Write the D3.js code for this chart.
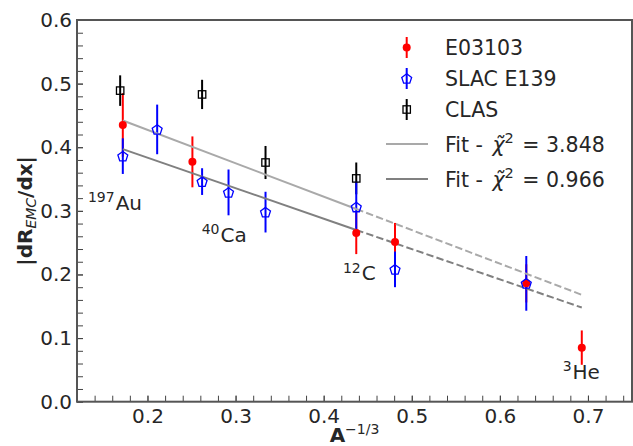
<!DOCTYPE html>
<html>
<head>
<meta charset="utf-8">
<script src="https://cdn.jsdelivr.net/npm/d3@7/dist/d3.min.js"></script>
<style>
  html, body { margin: 0; padding: 0; background: #fff; }
  svg { display: block; font-family: "DejaVu Sans", sans-serif; }
</style>
</head>
<body>
<div id="chart"></div>
<script>
// ---------------- data ----------------
const e03103X   = [0.172, 0.251, 0.437, 0.481, 0.630, 0.693];
const e03103Y   = [0.435, 0.377, 0.265, 0.251, 0.186, 0.085];
const e03103Err = [0.050, 0.040, 0.033, 0.030, 0.030, 0.027];

const slacX   = [0.172, 0.211, 0.262, 0.292, 0.334, 0.437, 0.481, 0.630];
const slacY   = [0.386, 0.428, 0.346, 0.329, 0.298, 0.306, 0.208, 0.186];
const slacErr = [0.028, 0.039, 0.021, 0.036, 0.032, 0.040, 0.028, 0.043];

const clasX   = [0.169, 0.262, 0.334, 0.437];
const clasY   = [0.489, 0.483, 0.376, 0.351];
const clasErr = [0.024, 0.023, 0.026, 0.025];

// fit lines: solid part up to carbon, dashed extrapolation to 3He
const fitX      = [0.172, 0.437, 0.693];
const fit1Y     = [0.442, 0.303, 0.168];   // chi2 = 3.848
const fit2Y     = [0.397, 0.270, 0.148];   // chi2 = 0.966
const fitLabels = ["3.848", "0.966"];

const nucleusMass = ["197", "40", "12", "3"];
const nucleusName = ["Au", "Ca", "C", "He"];
const nucleusX    = [0.1324, 0.2615, 0.4219, 0.6713];
const nucleusY    = [0.3014, 0.2511, 0.1913, 0.0357];

const seriesNames = ["E03103", "SLAC E139", "CLAS"];
const xTicks = [0.2, 0.3, 0.4, 0.5, 0.6, 0.7];
const xTickLabels = ["0.2", "0.3", "0.4", "0.5", "0.6", "0.7"];
const yTicks = [0.0, 0.1, 0.2, 0.3, 0.4, 0.5, 0.6];
const yTickLabels = ["0.0", "0.1", "0.2", "0.3", "0.4", "0.5", "0.6"];

// ---------------- layout ----------------
const W = 633, H = 446;
const L = 77, R = 632, T = 20, B = 401.7;
const RED = "#ff0000", BLUE = "#0000ff", BLACK = "#000000";
const LIGHT = "#a9a9a9", DARK = "#808080";
const TXT = "#262626";

const svg = d3.select("#chart").append("svg").attr("width", W).attr("height", H);

const x = d3.scaleLinear().domain([0.12, 0.75]).range([L, R]);
const y = d3.scaleLinear().domain([0, 0.6]).range([B, T]);

// axes (inward ticks)
const minorX = d3.range(0.14, 0.7501, 0.02);
const minorY = d3.range(0, 0.6001, 0.02);

svg.append("g").attr("transform", `translate(0,${B})`)
  .call(d3.axisBottom(x).tickValues(minorX).tickSize(-6).tickFormat(""))
  .call(g => g.select(".domain").remove())
  .call(g => g.selectAll("line").attr("stroke", "#444").attr("stroke-width", 1));
svg.append("g").attr("transform", `translate(0,${B})`)
  .call(d3.axisBottom(x).tickValues(xTicks).tickSize(-6).tickPadding(7)
        .tickFormat((d, i) => xTickLabels[i]))
  .call(g => g.select(".domain").remove())
  .call(g => g.selectAll("line").attr("stroke", "#444").attr("stroke-width", 1))
  .call(g => g.selectAll("text").attr("font-size", 20).attr("fill", TXT)
        .attr("font-family", "DejaVu Sans"));

svg.append("g").attr("transform", `translate(${L},0)`)
  .call(d3.axisLeft(y).tickValues(minorY).tickSize(-6).tickFormat(""))
  .call(g => g.select(".domain").remove())
  .call(g => g.selectAll("line").attr("stroke", "#444").attr("stroke-width", 1));
svg.append("g").attr("transform", `translate(${L},0)`)
  .call(d3.axisLeft(y).tickValues(yTicks).tickSize(-6).tickPadding(5)
        .tickFormat((d, i) => yTickLabels[i]))
  .call(g => g.select(".domain").remove())
  .call(g => g.selectAll("line").attr("stroke", "#444").attr("stroke-width", 1))
  .call(g => g.selectAll("text").attr("font-size", 20).attr("fill", TXT)
        .attr("font-family", "DejaVu Sans"));

// frame
svg.append("rect").attr("x", L).attr("y", T).attr("width", R - L).attr("height", B - T)
  .attr("fill", "none").attr("stroke", "#555").attr("stroke-width", 2);

// ---------------- error bars ----------------
function bars(xs, ys, es, color) {
  svg.append("g").selectAll("line").data(xs).join("line")
    .attr("x1", d => x(d)).attr("x2", d => x(d))
    .attr("y1", (d, i) => y(ys[i] + es[i]))
    .attr("y2", (d, i) => y(ys[i] - es[i]))
    .attr("stroke", color).attr("stroke-width", 2);
}
bars(clasX, clasY, clasErr, BLACK);
bars(e03103X, e03103Y, e03103Err, RED);
bars(slacX, slacY, slacErr, BLUE);

// ---------------- fit lines ----------------
function fitLine(ys, color) {
  const pts = fitX.map((d, i) => [x(d), y(ys[i])]);
  const line = d3.line();
  svg.append("path").attr("d", line(pts.slice(0, 2)))
    .attr("fill", "none").attr("stroke", color).attr("stroke-width", 2);
  svg.append("path").attr("d", line(pts.slice(1, 3)))
    .attr("fill", "none").attr("stroke", color).attr("stroke-width", 2)
    .attr("stroke-dasharray", "7.4,3.2");
}
fitLine(fit1Y, LIGHT);
fitLine(fit2Y, DARK);

// ---------------- markers ----------------
function pentagonPath(r) {
  const p = d3.path();
  for (let k = 0; k < 5; k++) {
    const a = -Math.PI / 2 + k * 2 * Math.PI / 5;
    const px = r * Math.cos(a), py = r * Math.sin(a);
    if (k === 0) p.moveTo(px, py); else p.lineTo(px, py);
  }
  p.closePath();
  return p.toString();
}

function circles(g, xs, ys) {
  g.selectAll("circle").data(xs).join("circle")
    .attr("cx", d => x(d)).attr("cy", (d, i) => y(ys[i])).attr("r", 4)
    .attr("fill", RED);
}
function pentagons(g, xs, ys) {
  g.selectAll("path").data(xs).join("path")
    .attr("d", pentagonPath(5.2))
    .attr("transform", (d, i) => `translate(${x(d)},${y(ys[i]) + 0.5})`)
    .attr("fill", "none").attr("stroke", BLUE).attr("stroke-width", 1.3);
}
function squares(g, xs, ys) {
  g.selectAll("rect").data(xs).join("rect")
    .attr("x", d => x(d) - 3.7).attr("y", (d, i) => y(ys[i]) - 3.7)
    .attr("width", 7.4).attr("height", 7.4)
    .attr("fill", "none").attr("stroke", BLACK).attr("stroke-width", 1.3);
}
circles(svg.append("g"), e03103X, e03103Y);
pentagons(svg.append("g"), slacX, slacY);
squares(svg.append("g"), clasX, clasY);

// ---------------- nucleus labels ----------------
nucleusName.forEach((name, i) => {
  const t = svg.append("text").attr("x", x(nucleusX[i])).attr("y", y(nucleusY[i]))
    .attr("fill", TXT).attr("font-size", 20);
  t.append("tspan").attr("font-size", 14).attr("dy", -7.5).text(nucleusMass[i]);
  t.append("tspan").attr("dy", 7.5).attr("dx", 1).text(name);
});

// ---------------- legend ----------------
const lg = svg.append("g");
const rowY = [47.5, 78.5, 109.5, 144, 179];
const markX = 406.7, textX = 445;
// errorbar entries
[[RED, "c"], [BLUE, "p"], [BLACK, "s"]].forEach(([col, kind], i) => {
  const cy = rowY[i];
  lg.append("line").attr("x1", markX).attr("x2", markX)
    .attr("y1", cy - 10.5).attr("y2", cy + 10.5)
    .attr("stroke", col).attr("stroke-width", 2);
  if (kind === "c") lg.append("circle").attr("cx", markX).attr("cy", cy).attr("r", 4).attr("fill", col);
  if (kind === "p") lg.append("path").attr("d", pentagonPath(5.2))
      .attr("transform", `translate(${markX},${cy + 0.5})`)
      .attr("fill", "none").attr("stroke", col).attr("stroke-width", 1.3);
  if (kind === "s") lg.append("rect").attr("x", markX - 3.7).attr("y", cy - 3.7)
      .attr("width", 7.4).attr("height", 7.4)
      .attr("fill", "none").attr("stroke", col).attr("stroke-width", 1.3);
  lg.append("text").attr("x", textX).attr("y", cy + 7.3)
    .attr("font-size", 20.5).attr("fill", TXT).text(seriesNames[i]);
});
// fit entries
[LIGHT, DARK].forEach((col, j) => {
  const cy = rowY[3 + j];
  lg.append("line").attr("x1", 386).attr("x2", 428).attr("y1", cy).attr("y2", cy)
    .attr("stroke", col).attr("stroke-width", 2);
  const t = lg.append("text").attr("x", textX).attr("y", cy + 7.5)
    .attr("font-size", 20.5).attr("fill", TXT);
  t.append("tspan").text("Fit - ");
  t.append("tspan").attr("font-style", "italic").attr("dx", 3).text("\u03C7\u0303");
  t.append("tspan").attr("font-size", 14.5).attr("dy", -9).text("2");
  t.append("tspan").attr("dy", 9).attr("dx", 2).text(" = " + fitLabels[j]);
});

// ---------------- axis titles ----------------
const yl = svg.append("text")
  .attr("transform", `translate(32,${(T + B) / 2}) rotate(-90)`)
  .attr("text-anchor", "middle").attr("font-size", 20).attr("fill", TXT);
yl.append("tspan").attr("font-weight", "bold").text("|dR");
yl.append("tspan").attr("font-style", "italic").attr("font-size", 14).attr("dy", 4).text("EMC");
yl.append("tspan").attr("font-weight", "bold").attr("dy", -4).text("/dx|");

const xl = svg.append("text")
  .attr("x", (L + R) / 2).attr("y", 442)
  .attr("text-anchor", "middle").attr("font-size", 20).attr("fill", TXT);
xl.append("tspan").attr("font-weight", "bold").text("A");
xl.append("tspan").attr("font-size", 14).attr("dy", -8).text("\u22121/3");
</script>
</body>
</html>
